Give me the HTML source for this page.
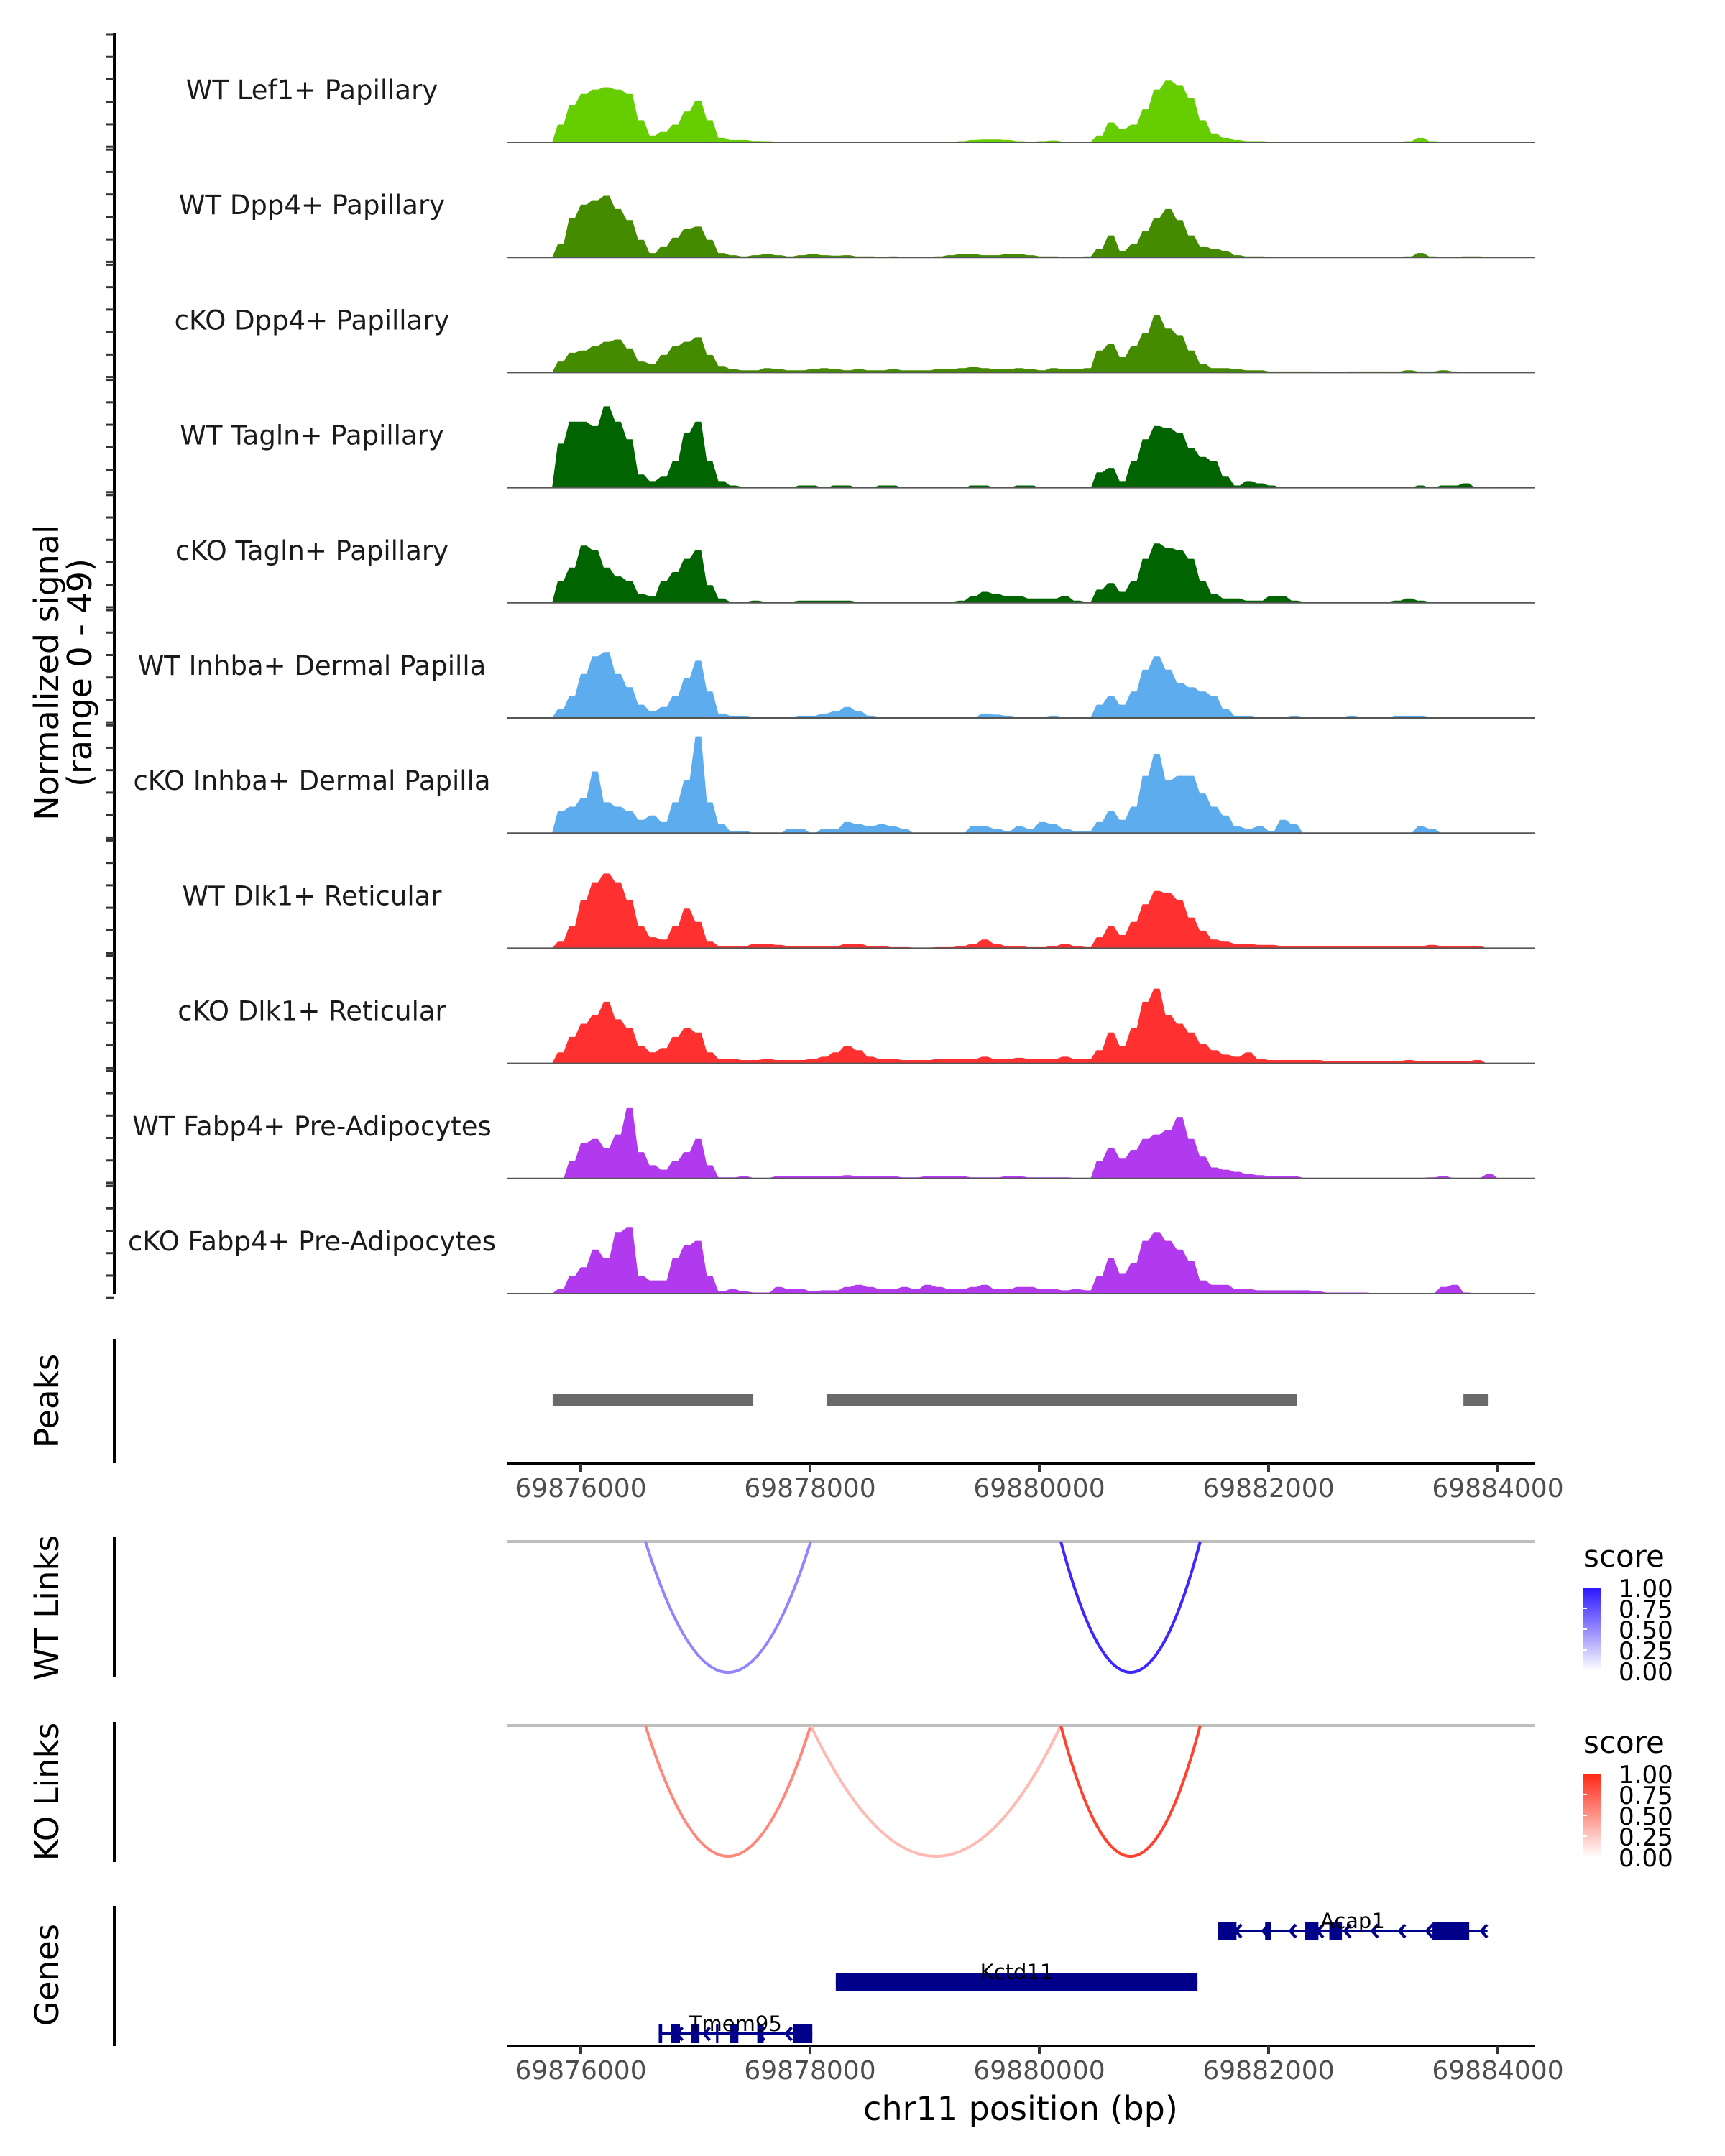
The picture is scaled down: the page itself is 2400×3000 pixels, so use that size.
<!DOCTYPE html>
<html><head><meta charset="utf-8">
<style>
html,body{margin:0;padding:0;background:#fff;}
svg{display:block;font-family:"DejaVu Sans","Liberation Sans",sans-serif;}
</style></head>
<body>
<svg id="chart" width="2400" height="3000" viewBox="0 0 2400 3000" xmlns="http://www.w3.org/2000/svg">
<g id="tracks"></g>
<g id="lower"></g>
</svg>
<script>
// ---------- data ----------
const binStart = 69875700;
const binSize = 100;
const trackNames = ["WT Lef1+ Papillary","WT Dpp4+ Papillary","cKO Dpp4+ Papillary","WT Tagln+ Papillary","cKO Tagln+ Papillary","WT Inhba+ Dermal Papilla","cKO Inhba+ Dermal Papilla","WT Dlk1+ Reticular","cKO Dlk1+ Reticular","WT Fabp4+ Pre-Adipocytes","cKO Fabp4+ Pre-Adipocytes"];
const trackColors = ["#66CD00","#458B00","#458B00","#006400","#006400","#5CACEE","#5CACEE","#FF3030","#FF3030","#B23AEE","#B23AEE"];
const sigLef1WT = [0,8,17,22,24,25,24,22,10,3,5,8,14,19,10,2,1,1,.6,.5,.3,.3,.3,.2,.2,.2,.2,.2,.2,.2,.2,.2,.2,.2,.2,.2,.5,1,1.2,1.2,1,.5,.3,.5,.8,.3,.2,.2,3,9,6,8,15,24,28,26,20,10,4,2,1,.5,.5,.3,.3,.2,.2,.2,.2,.2,.2,.2,.2,.2,.2,.5,2,.5,.3,.2,.2,.2,0];
const sigDpp4WT = [0,6,18,24,26,28,22,17,8,2,5,9,13,14,8,2,1,.5,1,1.5,1,.5,1,1.5,1,.8,1,.5,.5,.3,.5,.3,.3,.3,.5,1,1.5,1.5,1,1,1.5,1.5,1,.5,.5,.3,.3,.5,4,10,3,6,12,18,22,17,10,5,4,3,1,.5,.5,.3,.3,.3,.2,.2,.2,.2,.2,.2,.2,.2,.3,.5,2,.5,.3,.3,.5,.5,0];
const sigDpp4KO = [0,5,9,10,12,14,15,11,5,4,8,12,14,16,8,3,1.5,1,1,2,1.5,1,1,1.5,2,1.5,1,1.5,1,1,1.5,1,1,1,1.5,1.5,2,2.5,2,1.5,1.5,2,1.5,1,2,1.5,1.5,2,10,13,7,12,18,26,20,17,10,4,2,2,1.5,1,1,.5,.5,.5,.5,.5,.3,.3,.5,.5,.5,.5,.5,1,.5,.5,1,.5,.3,.3,0];
const sigTaglnWT = [0,20,30,30,28,37,30,22,6,3,5,12,25,30,12,3,1,.5,0,0,0,0,1,1,0,1,1,0,0,1,1,0,0,0,0,0,0,1,1,0,0,1,1,0,0,0,0,0,7,9,3,12,22,28,27,25,18,14,12,5,1,3,2,1,0,0,0,0,0,0,0,0,0,0,0,0,1,0,1,1,2,0,0];
const sigTaglnKO = [0,10,16,26,24,16,12,10,4,3,10,14,20,24,8,2,.5,.5,1,.5,.5,.5,1,1,1,1,1,.5,.5,.5,.3,.3,.5,.5,.3,.5,1,3,5,4,3,3,2,2,2,3,1,.5,6,9,5,10,20,27,25,24,20,10,4,2,2,1,1,3,3,1,.5,.5,.3,.3,.3,.3,.3,.5,1,2,1,.5,.3,.3,.5,.3,0];
const sigInhbaWT = [0,4,10,20,28,30,20,14,6,3,5,10,18,26,12,2,1,1,.5,.5,.3,.5,1,1,2,3,5,3,1,.5,.3,.3,.3,.3,.5,.5,.5,.5,2,1.5,1,.5,.5,.5,1,.5,.5,.5,6,10,6,12,22,28,22,16,14,12,10,4,1,1,.5,.5,.5,1,.5,.5,.5,.5,1,.5,.3,.3,1,1,1,.5,.3,.3,.3,.2,0];
const sigInhbaKO = [0,10,12,16,28,14,12,10,6,8,5,14,24,44,14,4,1,1,0,0,0,2,2,0,2,2,5,4,3,4,3,2,0,0,0,0,0,3,3,2,1,3,2,5,4,2,1,1,5,10,6,12,26,36,24,26,26,18,12,8,3,2,3,1,6,4,0,0,0,0,0,0,0,0,0,0,3,2,0,0,0,0,0];
const sigDlk1WT = [0,3,10,22,30,34,30,22,10,5,4,10,18,12,3,1,1,1,2,2,1.5,1,1,1,1,1,2,2,1,1,.5,.5,.3,.3,.5,.5,1,2,4,2,1,1,.5,.5,1,2,1,.5,5,10,6,12,20,26,25,22,14,8,4,3,2,2,1.5,1.5,1,1,1,1,1,1,1,1,1,1,1,1,1,1.5,1,1,1,1,0];
const sigDlk1KO = [0,5,12,18,22,28,20,16,8,5,7,12,16,14,5,2,2,1.5,1.5,2,1.5,1.5,1.5,2,3,5,8,6,3,2,2,1.5,1.5,1.5,2,2,2,2,3,2,2,2.5,2,2,2,3,2,2,6,14,8,16,28,34,22,18,14,9,6,4,3,5,2,1.5,1.5,1.5,1.5,1.5,1,1,1,1,1,1,1,1.5,1,1,1,1,1,1.5,0];
const sigFabp4WT = [0,0,8,16,18,14,20,32,12,6,4,8,12,18,6,.5,.5,1,.3,.3,1,1,1,1,1,1,1.5,1,1,1,1,.5,.5,1,1,1,1,.5,.5,.5,1,1,.5,.5,.5,.5,.3,.3,8,14,9,13,18,20,22,28,18,10,5,4,3,2,1.5,1,1,1,.3,.3,.3,.3,.3,.3,.3,.3,.3,.3,.3,.5,1,.3,.3,.3,2];
const sigFabp4KO = [0,2,8,12,20,16,28,30,8,6,6,16,22,24,8,1,2,1,.5,.5,3,2,2,1,1.5,1.5,3,4,3,2,2,3,2,4,3,2,2,3,4,2,2,3,3,2,2,1.5,2,1.5,8,16,9,14,24,28,24,20,15,6,4,4,2,2,1.5,1.5,1.5,1.5,1.5,1,.5,.5,.5,.5,.3,.3,.3,.3,.3,.3,3,4,.5,0,0];
const signals = [sigLef1WT,sigDpp4WT,sigDpp4KO,sigTaglnWT,sigTaglnKO,sigInhbaWT,sigInhbaKO,sigDlk1WT,sigDlk1KO,sigFabp4WT,sigFabp4KO];
const peakStarts = [69875755,69878144,69883700];
const peakEnds = [69877505,69882245,69883913];
const xTicks = [69876000,69878000,69880000,69882000,69884000];
const wtLinkStarts = [69876564,69880188];
const wtLinkEnds = [69878006,69881404];
const wtLinkScores = [0.4,0.9];
const koLinkStarts = [69876564,69878006,69880188];
const koLinkEnds = [69878006,69880188,69881404];
const koLinkScores = [0.45,0.15,0.85];
const legendTicks = ["1.00","0.75","0.50","0.25","0.00"];
const geneNames = ["Acap1","Kctd11","Tmem95"];
const geneStarts = [69881555,69878225,69876680];
const geneEnds = [69883910,69881380,69878020];
const acap1Exons = [[69881555,69881720],[69881970,69882020],[69882320,69882435],[69882530,69882640],[69883430,69883750]];
const kctd11Exons = [[69878225,69881380]];
const tmem95Exons = [[69876680,69876710],[69876785,69876865],[69876960,69877035],[69877180,69877200],[69877300,69877375],[69877540,69877595],[69877850,69878020]];

// ---------- scales ----------
const NS = "http://www.w3.org/2000/svg";
function xs(bp){ return 808 + (bp - 69876000) * 0.1595; }
const trackBase0 = 198, trackStep = 160.2, unitPx = 3.06;
function ys(track, v){ return trackBase0 + trackStep*track - v*unitPx; }
function mk(tag, attrs, parent){
  const e = document.createElementNS(NS, tag);
  for (const k in attrs) e.setAttribute(k, attrs[k]);
  parent.appendChild(e); return e;
}
const gT = document.getElementById('tracks');
const gL = document.getElementById('lower');

let ax = mk('line',{x1:159,y1:46,x2:159,y2:1800,stroke:'#000','stroke-width':4},gT);


for (let t=0;t<11;t++){
  for (let k=0;k<=5;k++){
    const y = 46 + t*trackStep + 2 + k*(trackStep-4)/5;
    const tk = mk('line',{x1:148,y1:y,x2:159,y2:y,stroke:'#333','stroke-width':3},gT);
    
    
  }
}
let yt = mk('text',{x:0,y:0,'font-size':46,'text-anchor':'middle',fill:'#000',transform:'translate(81,936) rotate(-90)'},gT);
yt.textContent='Normalized signal';


let yt2 = mk('text',{x:0,y:0,'font-size':46,'text-anchor':'middle',fill:'#000',transform:'translate(127,936) rotate(-90)'},gT);
yt2.textContent='(range 0 - 49)';



signals.forEach((arr, t) => {
  const base = ys(t,0);
  let d = 'M' + xs(binStart).toFixed(1) + ',' + base;
  arr.forEach((v,i) => {
    const x0 = xs(binStart + i*binSize), x1 = xs(binStart + (i+1)*binSize);
    d += ' L' + x0.toFixed(1) + ',' + ys(t,v).toFixed(1) + ' L' + ((x0+x1)/2).toFixed(1) + ',' + ys(t,v).toFixed(1);
  });
  d += ' L' + xs(binStart + arr.length*binSize).toFixed(1) + ',' + base + ' Z';
  const p = mk('path',{d:d,fill:trackColors[t]},gT);
  
  
  const bl = mk('line',{x1:705,y1:base,x2:2135,y2:base,stroke:'#555','stroke-width':2},gT);
  
  
  const lb = mk('text',{x:434,y:base-60,'font-size':37,'text-anchor':'middle',fill:'#1a1a1a'},gT);
  lb.textContent = trackNames[t];
  
  
});

const panelAx = [[1863,2036,'Peaks',1949],[2139,2334,'WT Links',2237],[2396,2591,'KO Links',2493],[2652,2847,'Genes',2748]];
panelAx.forEach(a => {
  const l = mk('line',{x1:159,y1:a[0],x2:159,y2:a[1],stroke:'#000','stroke-width':4},gL);
  
  
  const t = mk('text',{x:0,y:0,'font-size':45,'text-anchor':'middle',fill:'#000',transform:'translate(81,'+a[3]+') rotate(-90)'},gL);
  t.textContent = a[2];
  
  
});

peakStarts.forEach((s,i) => {
  const r = mk('rect',{x:xs(s),y:1940,width:xs(peakEnds[i])-xs(s),height:17,fill:'#696969'},gL);
  
  
});

function xAxis(y, name){
  const l = mk('line',{x1:705,y1:y,x2:2135,y2:y,stroke:'#000','stroke-width':4},gL);
  
  
  xTicks.forEach(v => {
    const tk = mk('line',{x1:xs(v),y1:y,x2:xs(v),y2:y+11,stroke:'#333','stroke-width':4},gL);
    
    
    const tl = mk('text',{x:xs(v),y:y+46,'font-size':36,'text-anchor':'middle',fill:'#4d4d4d'},gL);
    tl.textContent = v;
    
    
  });
}
xAxis(2037,'peaks-x-axis');
xAxis(2847,'genes-x-axis');
const xt = mk('text',{x:1420,y:2950,'font-size':46,'text-anchor':'middle',fill:'#000'},gL);
xt.textContent = 'chr11 position (bp)';



function blend(c, s){ return 'rgb(' + c.map(v => Math.round(255 + (v-255)*s)).join(',') + ')'; }
function links(base, bottom, starts, ends, scores, col, name){
  const bl = mk('line',{x1:705,y1:base,x2:2135,y2:base,stroke:'#bebebe','stroke-width':4},gL);
  
  
  starts.forEach((s,i) => {
    const x1 = xs(s), x2 = xs(ends[i]), cy = base + 2*(bottom-base);
    const p = mk('path',{d:'M'+x1+','+base+' Q'+((x1+x2)/2)+','+cy+' '+x2+','+base,fill:'none',stroke:blend(col,0.2+0.8*scores[i]),'stroke-width':4},gL);
    
    
  });
}
links(2145,2327,wtLinkStarts,wtLinkEnds,wtLinkScores,[43,20,255],'wt-link');
links(2401,2583,koLinkStarts,koLinkEnds,koLinkScores,[255,40,20],'ko-link');

const defs = mk('defs',{},document.getElementById('chart'));
function legend(top, col, id, name){
  const g = mk('linearGradient',{id:id,x1:0,y1:1,x2:0,y2:0},defs);
  mk('stop',{offset:0,'stop-color':'#ffffff'},g);
  mk('stop',{offset:1,'stop-color':col},g);
  const st = mk('text',{x:2203,y:top-29,'font-size':42,fill:'#000'},gL);
  st.textContent = 'score';
  
  
  const r = mk('rect',{x:2203,y:top,width:24,height:116,fill:'url(#'+id+')'},gL);
  
  
  legendTicks.forEach((lt,i) => {
    const y = top + i*29;
    const tk = mk('line',{x1:2203,y1:y,x2:2208,y2:y,stroke:'#fff','stroke-width':2},gL);
    
    
    const tx = mk('text',{x:2252,y:y+13,'font-size':34,fill:'#000'},gL);
    tx.textContent = lt;
    
    
  });
}
legend(2209,'#2b14ff','gWT','wt-legend');
legend(2468,'#ff2814','gKO','ko-legend');

function gene(idx, yc, exons, strandMinus){
  const x1 = xs(geneStarts[idx]), x2 = xs(geneEnds[idx]);
  const ln = mk('line',{x1:x1,y1:yc,x2:x2,y2:yc,stroke:'#00008B','stroke-width':4},gL);
  
  
  if (strandMinus){
    for (let x = x1+25; x < x2; x += 38){
      const a = mk('path',{d:'M'+(x+8)+','+(yc-9)+' L'+x+','+yc+' L'+(x+8)+','+(yc+9),fill:'none',stroke:'#00008B','stroke-width':4},gL);
      
      
    }
  }
  exons.forEach(e => {
    const r = mk('rect',{x:xs(e[0]),y:yc-13,width:xs(e[1])-xs(e[0]),height:26,fill:'#00008B'},gL);
    
    
  });
  const t = mk('text',{x:(x1+x2)/2,y:yc-4,'font-size':29,'text-anchor':'middle',fill:'#000'},gL);
  t.textContent = geneNames[idx];
  
  
}
gene(0,2687,acap1Exons,true);
gene(1,2758,kctd11Exons,false);
gene(2,2830,tmem95Exons,true);
</script>
</body></html>
